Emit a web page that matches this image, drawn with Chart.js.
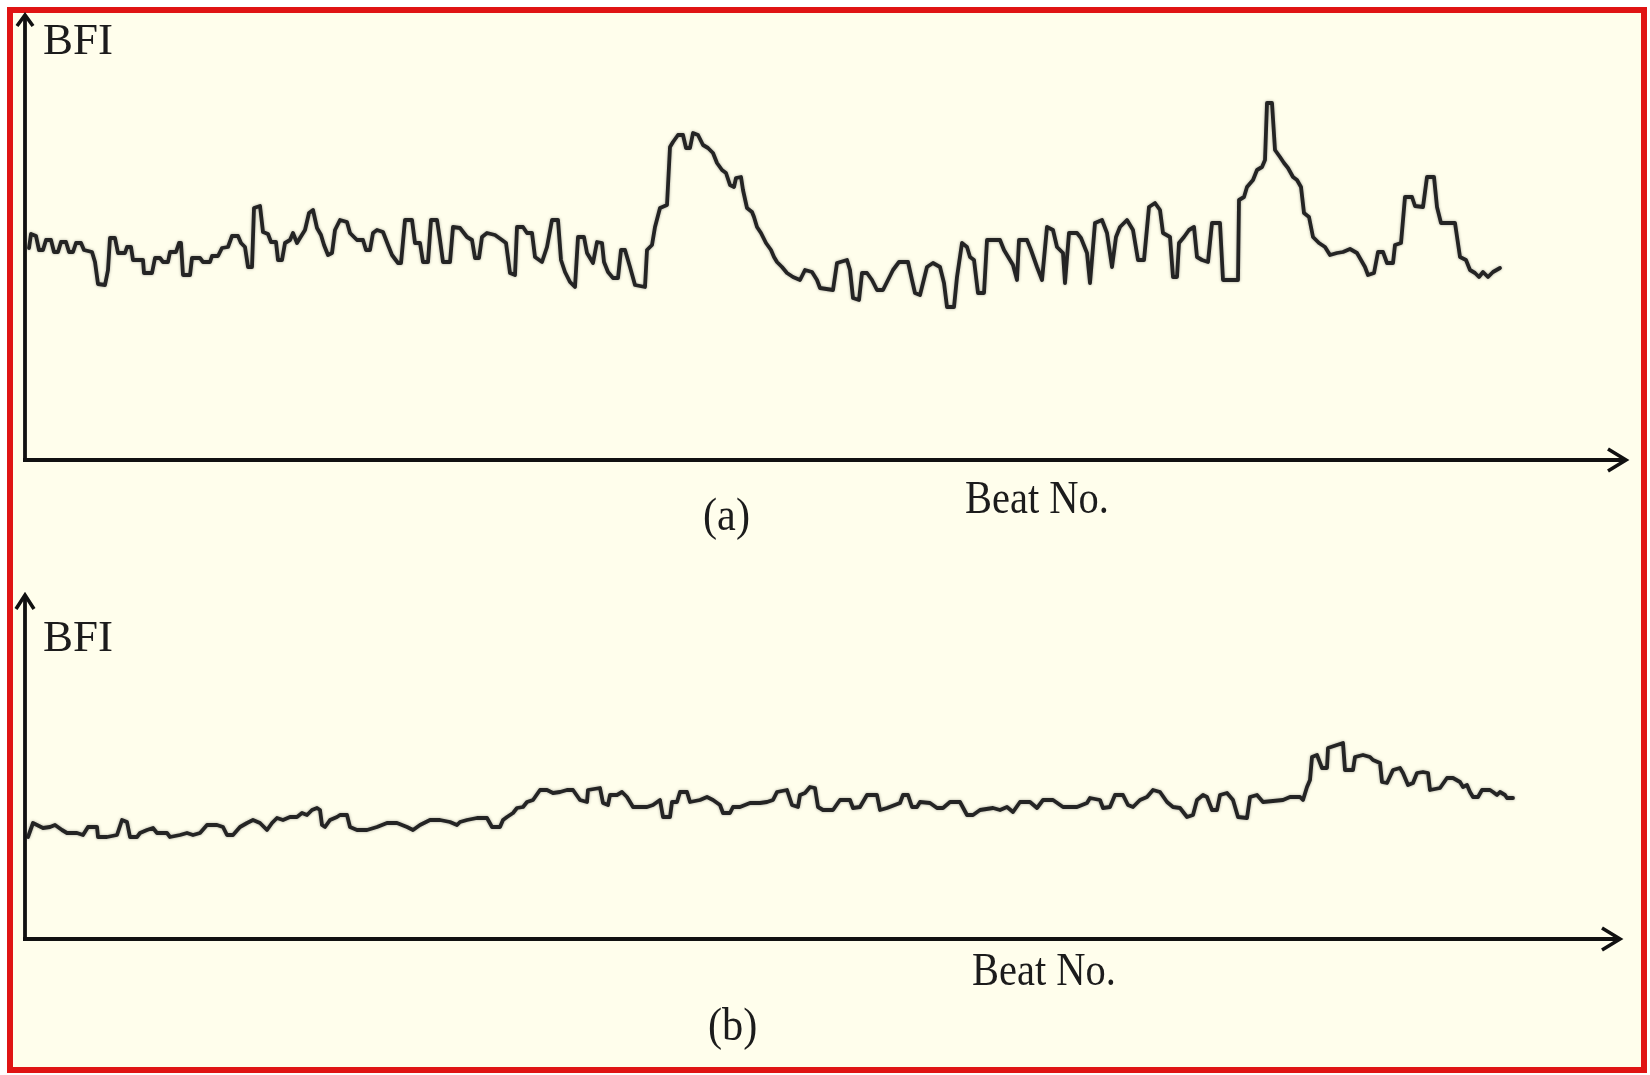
<!DOCTYPE html>
<html>
<head>
<meta charset="utf-8">
<script src="https://cdn.jsdelivr.net/npm/chart.js@4.4.1/dist/chart.umd.min.js"></script>
<style>
  html, body { margin: 0; padding: 0; background: #ffffff; }
  #page { position: relative; width: 1650px; height: 1075px; overflow: hidden; }
  #frame { position: absolute; left: 7px; top: 7px; width: 1640px; height: 1066px; box-sizing: border-box;
           border: 6px solid #e01414; background: #fffeec; }
  canvas { position: absolute; left: 0; top: 0; }
  .lbl { position: absolute; font-family: "Liberation Serif", "Times New Roman", serif; color: #1c1c1c;
         line-height: 1; white-space: nowrap; transform-origin: 0 0; }
</style>
</head>
<body>
<div id="page">
  <div id="frame"></div>
  <canvas id="chartA" width="1650" height="1075"></canvas>
  <canvas id="chartB" width="1650" height="1075"></canvas>
  <div class="lbl" style="left:43px; top:17px; font-size:45px;">BFI</div>
  <div class="lbl" style="left:965px; top:475px; font-size:46px; transform:scaleX(0.88);">Beat No.</div>
  <div class="lbl" style="left:703px; top:492px; font-size:46px; transform:scaleX(0.92);">(a)</div>
  <div class="lbl" style="left:43px; top:614px; font-size:45px;">BFI</div>
  <div class="lbl" style="left:972px; top:947px; font-size:46px; transform:scaleX(0.88);">Beat No.</div>
  <div class="lbl" style="left:708px; top:1002px; font-size:46px; transform:scaleX(0.92);">(b)</div>
</div>
<script>
// ---- Panel (a): beat position and BFI (arbitrary units) ----
const beatA = [1,1.5,2.75,3.5,4.5,5.25,6.5,7.25,8.25,9,10.25,11,12,12.75,14,14.75,16.75,17.5,18.25,20,20.75,21.25,22.5,23.25,25,25.5,26.5,27,29.5,29.75,31.75,32.5,33.75,34.5,35.75,36.25,37.75,38.5,39,39.5,41.25,41.75,43.75,44.5,46.25,46.75,48.25,49.25,50.75,51.75,53.25,54,55,55.75,56.75,57.25,58.75,59.5,60.75,61.5,62.75,63.25,64.25,65,66.25,67,68,68.75,70,71,72,73,74,74.75,75.75,76.75,77.5,78.75,80.5,81.25,83,84.5,85.25,86.25,87,88,89.5,90.75,91.75,93.25,94,
95,96.75,97.5,98.75,99.5,100.75,101.5,103,103.75,104.5,106.25,107,108.75,110.5,111.75,112.5,113.5,114.25,115.5,117.5,119.25,120.25,121.25,122.5,123,124.5,125.5,126.75,127.5,129.25,130.5,131.75,133.25,134,135,136.25,137.5,138.25,139.75,140.5,142,143,144.25,144.75,145.75,147,148.25,149,150,151.25,152.5,155,155.5,156.75,157.5,158.75,160.5,161.25,162,163.25,164.5,165.25,166.25,167,168.25,169.5,170.75,172,173,174.25,175.25,176.25,177.25,177.75,179,179.5,180.5,181.75,182.25,183,184,185.25,186.5,187.25,188,189.25,190.5,192,193.75,
195,196.75,198,198.75,202,203,205.5,206.25,207,208.5,209.25,210.5,211.75,213,214.5,215.75,217,218.5,220.75,221.75,222.5,223.75,225.5,227,228.75,229.75,230.5,232.25,233,234.25,235.5,236.25,237.25,238.25,239.75,240.5,243.75,244.75,246.25,247,248,248.5,250.5,251.5,253,254.25,255.5,257,258,259.5,260,261,263,264,265.5,266.25,267.5,269.25,270.5,271.75,272.75,273.75,275.5,277,278.25,279.75,281,282.5,283.75,
284.5,286.25,287,288,288.5,289.75,291,292.25,293,294.25,295.75,296.75,298.75,299.5,303.25,303.5,304.75,305.5,307,308,309.25,310,310.5,311.75,312.5,313.75,314.75,315.75,317,318,319,319.75,321,322,323.5,325,326.25,328,329.5,331.25,333,334,335,335.75,337.25,338.25,339.5,340.5,342,342.5,344,345,346.75,347.5,349.5,350.5,352.25,353,354,357.5,358.75,360.25,361.25,362.5,363.5,364.5,365.75,367,368.75];
const bfiA = [42.4,45.2,44.8,42,42,44,44,41.6,41.6,43.6,43.6,41.6,41.6,43.4,43.4,42,41.6,39.6,35.2,35,38,44.4,44.4,41.4,41.4,42.6,42.6,40,40,37.4,37.4,40.4,40.4,39.6,39.6,41.6,41.6,43.4,43.4,37,37,40.4,40.4,39.6,39.6,40.8,40.8,42.4,42.6,44.8,44.8,43.4,42.6,38.6,38.6,50.4,50.8,45.6,45.2,43.6,43.6,40,40,43.4,44,45.4,43.4,44.4,46,49.4,50,46.4,45,43,41,41.4,46,48,47.6,45.4,44,44,42,42,45.4,46,45.6,43,41,39.4,39.4,
48,48,43.4,43.4,39.6,39.6,48,48,44,39.6,39.6,46.6,46.4,44.6,44,40.4,40.4,44.6,45.4,45,44,43.4,37.4,37,46.6,46.6,45.4,45.4,40.6,39.6,42.6,48,48,40,37.6,35.6,34.6,44.6,44.6,41.4,39.4,43.6,43.4,39.6,37.6,36.4,36.4,42,42,38.6,35,34.6,42,43,46.6,50.4,51,62.6,63.6,65,65,62.4,62.4,65.4,65,63,62.4,61.4,59.4,58,57.4,55,54.6,56.4,56.6,54,50.4,49.6,48.6,46.6,45.4,43.4,42,40.6,39.6,38.6,37.4,36.6,36,
38,37.6,36,34.4,34,39.4,40,38,32.4,32,37.4,37.4,36,34,34,36,38,39.6,39.6,36,33.4,33,38.6,39.4,38.6,35.4,30.6,30.6,36.6,43.4,42.6,40.6,40,33.4,33.4,44,44,42,40,39,36,44,44,42,38.6,36,46.6,46,42.6,41.4,35.4,45.4,45.4,44.4,41.4,35.4,47.4,48,45.4,38.6,44.6,46.6,48,46,40,40,50.6,51.4,50,
45.4,44.6,36.6,36.6,43.4,44.6,46,46.6,40.6,40,39.6,47.4,47.4,36,36,52,52.6,54.6,56,58,58.6,60,71.4,71.4,62,60.6,59.4,58.4,56.6,56,54.6,49.4,48.6,44.6,43.4,42.6,41,41.4,41.6,42.2,41.4,40,38.6,37,37.4,41.6,41.6,39.4,39.4,43,43.4,52.6,52.6,50.8,50.6,56.6,56.6,50.6,47.4,47.4,40.6,40,38,37.4,36.6,37.6,36.6,37.6,38.4];

// ---- Panel (b): beat position and BFI (arbitrary units) ----
const beatB = [0.75,2,3,4.5,6.25,7.5,9.25,10.5,13,14.5,15.75,18,18.25,20.5,23,24.25,25.5,26.25,28,28.75,30.5,32,33,35.5,36.25,38.75,40.5,42,43.75,45.5,48,49.5,50.5,52,53.75,55.5,57,58.75,60.5,61.75,63,64.5,66.25,68,69.25,70.5,71.75,73,73.75,74.25,75,76.25,78,78.75,80.5,81.25,83,85.5,88,90.5,93,95.5,97,98.75,101.25,103.75,106.25,108,108.75,110.5,113,115.5,116.75,118.75,119.5,120.5,122,123,124.5,125.5,127,128.75,130.5,132,133.75,135.5,137,138.75,140.5,140.75,143.75,144.5,145.75,146.25,148,149.25,150.5,152,155.5,157,158.75,159.5,161.25,161.75,163,163.75,165.5,166.25,168.75,170.5,172,173.75,174.5,176.25,177,178.75,181.25,183.75,185.5,187,188,190.5,191.75,193.25,193.75,195,196.25,197.5,198.25,199.5,202,203.75,206.25,207,208.75,210.5,213,213.75,215.5,218.75,219.5,220.75,221.75,223,223.75,226.25,228,229.5,231.25,233.75,235.5,237,238.75,242,243.75,245.5,247,248.75,251.25,253,254.5,257,259.5,263,265.5,266.25,268.75,269.5,271.25,272.5,274.5,275.75,277,278.75,280.5,282,283.75,285.5,287,288.75,290.5,292,293,294.5,295.5,296.75,298,298.75,300.5,302,303.25,305.5,306.25,308,309.5,314.5,316.25,318.75,319.5,320.5,321.25,321.75,323,324.25,325.5,325.75,328,329.5,330,332,332.5,334.5,336.25,337,338.75,339.25,340.5,342,343.75,344.5,345.75,347,348,349.5,350.75,351.25,353.75,355.5,357,358.75,359.5,360.5,361.25,362,363.25,364.25,366.25,367,368,368.75,370,370.5,372];
const bfiB = [20.4,23.2,22.8,22.2,22.4,22.8,21.8,21.2,21.2,20.8,22.4,22.4,20.4,20.4,20.8,23.8,23.4,20.4,20.4,21.2,21.8,22.2,21.2,21.2,20.4,20.8,21.2,20.8,21.2,22.8,22.8,22.4,20.8,20.8,22.4,23.2,23.8,23.2,21.8,23.2,24.2,23.8,24.4,24.4,25.2,24.8,25.8,26.2,25.8,22.8,22.4,23.8,24.4,24.8,24.8,22.4,21.8,21.8,22.4,23.2,23.2,22.4,21.8,22.8,23.8,23.8,23.4,22.8,23.4,23.8,24.2,24.2,22.4,22.4,23.8,24.4,25.2,26.2,26.4,27.4,27.8,29.8,29.8,29.2,29.4,29.8,29.8,27.8,27.4,29.8,30.2,27.2,26.8,28.8,28.8,29.4,28.4,26.4,26.4,26.8,27.8,24.4,24.4,27.4,27.4,29.4,29.4,27.4,27.8,28.4,27.8,26.8,25.2,25.2,26.4,26.4,27.2,27.2,27.4,27.8,29.4,29.8,26.8,26.4,28.8,29.2,30.4,30.2,26.4,25.8,25.8,27.8,27.8,26.2,26.4,28.8,28.8,25.8,26.2,27.2,28.8,28.8,26.4,26.4,27.4,27.2,26.2,26.2,27.4,27.4,24.8,24.8,25.8,26.2,25.8,26.4,25.4,27.4,27.4,26.2,27.8,27.8,26.4,26.4,27.2,28.2,27.8,26.2,26.4,28.8,28.8,26.8,26.4,27.8,28.4,29.8,29.4,27.4,26.4,26.2,24.4,24.8,27.8,28.8,28.4,25.8,25.8,28.8,29.2,27.8,24.4,24.2,28.4,28.8,27.4,27.8,28.4,28.4,27.8,30.4,31.8,36.4,36.8,34.2,34.2,38.2,38.8,39.2,33.8,33.8,36.4,36.8,36.4,35.8,35.2,31.4,31.2,33.8,34.2,33.2,30.8,31.2,33.2,33.4,33.2,29.8,30.2,32.2,32.2,31.4,30.4,30.8,29.4,28.4,28.4,29.8,29.8,29.4,28.8,29.4,28.8,28.2,28.2];

// Axis ranges (arbitrary units)
const xMaxA = 400.25, yMaxA = 89;
const xMaxB = 398.75, yMaxB = 68.8;

const softLine = {
  id: 'softLine',
  beforeDatasetsDraw(chart) {
    const ctx = chart.ctx;
    ctx.save();
    ctx.shadowColor = 'rgba(0,0,0,0.35)';
    ctx.shadowBlur = 3;
  },
  afterDatasetsDraw(chart) {
    chart.ctx.restore();
  }
};

const axisArrows = {
  id: 'axisArrows',
  afterDraw(chart, args, opts) {
    const { ctx } = chart;
    const xs = chart.scales.x, ys = chart.scales.y;
    const left = xs.left, right = xs.right, top = ys.top, bottom = ys.bottom;
    ctx.save();
    ctx.strokeStyle = '#111';
    ctx.lineWidth = 3.8;
    ctx.lineCap = 'butt';
    ctx.lineJoin = 'miter';
    ctx.beginPath();
    ctx.moveTo(left - 2, bottom);
    ctx.lineTo(right - 2, bottom);
    ctx.moveTo(left, bottom + 1.5);
    ctx.lineTo(left, top + 2);
    ctx.stroke();
    ctx.lineWidth = 3.6;
    ctx.beginPath();
    ctx.moveTo(right - opts.xl, bottom - opts.xh);
    ctx.lineTo(right, bottom);
    ctx.lineTo(right - opts.xl, bottom + opts.xh);
    ctx.moveTo(left - opts.yh, top + opts.yl);
    ctx.lineTo(left, top);
    ctx.lineTo(left + opts.yh, top + opts.yl);
    ctx.stroke();
    ctx.restore();
  }
};

function makeChart(id, xs, ys, pad, xMax, yMax, arrows) {
  const pts = xs.map((x, i) => ({ x: x, y: ys[i] }));
  return new Chart(document.getElementById(id), {
    type: 'line',
    data: { datasets: [{ data: pts, borderColor: '#242424', borderWidth: 3.8, pointRadius: 0,
                         tension: 0, fill: false, borderJoinStyle: 'round', borderCapStyle: 'round' }] },
    options: {
      responsive: false, animation: false, devicePixelRatio: 1,
      layout: { padding: pad },
      scales: {
        x: { type: 'linear', min: 0, max: xMax, display: false },
        y: { type: 'linear', min: 0, max: yMax, display: false }
      },
      plugins: { legend: { display: false }, tooltip: { enabled: false }, axisArrows: arrows },
      events: []
    },
    plugins: [softLine, axisArrows]
  });
}

makeChart('chartA', beatA, bfiA, { left: 25, right: 24, top: 15, bottom: 615 }, xMaxA, yMaxA,
          { xl: 18, xh: 11, yl: 11, yh: 8 });
makeChart('chartB', beatB, bfiB, { left: 25, right: 30, top: 595, bottom: 136 }, xMaxB, yMaxB,
          { xl: 18, xh: 11, yl: 14, yh: 9 });
</script>
</body>
</html>
